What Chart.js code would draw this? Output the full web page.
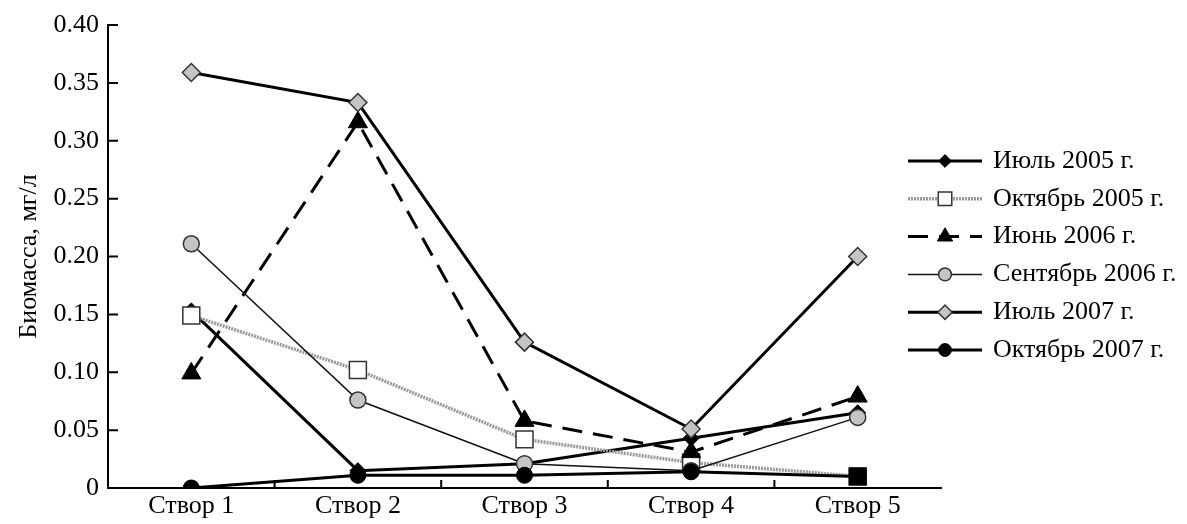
<!DOCTYPE html>
<html>
<head>
<meta charset="utf-8">
<script src="https://cdn.jsdelivr.net/npm/chart.js@4.4.1/dist/chart.umd.min.js"></script>
<style>
    html, body { margin: 0; padding: 0; background: #fff; }
    #wrap { width: 1187px; height: 524px; position: relative; }
</style>
</head>
<body>
<div id="wrap"><canvas id="chart"></canvas></div>
<script>
// Данные графика
const categories = ['Створ 1', 'Створ 2', 'Створ 3', 'Створ 4', 'Створ 5'];
const seriesNames = ['Июль 2005 г.', 'Октябрь 2005 г.', 'Июнь 2006 г.', 'Сентябрь 2006 г.', 'Июль 2007 г.', 'Октябрь 2007 г.'];
const jul2005 = [0.153, 0.015, 0.021, 0.043, 0.065];
const oct2005 = [0.149, 0.102, 0.042, 0.022, 0.010];
const jun2006 = [0.099, 0.316, 0.058, 0.031, 0.079];
const sep2006 = [0.211, 0.076, 0.021, 0.015, 0.061];
const jul2007 = [0.359, 0.333, 0.126, 0.051, 0.200];
const oct2007 = [0.000, 0.011, 0.011, 0.014, 0.010];
const yTicks = [0, 0.05, 0.10, 0.15, 0.20, 0.25, 0.30, 0.35, 0.40];

const FONT = 'Liberation Serif';

const datasets = [
    {
        label: seriesNames[0], data: jul2005,
        borderColor: '#000', borderWidth: 3,
        pointStyle: 'rectRot', pointRadius: 8, pointBackgroundColor: '#000', pointBorderColor: '#000', pointBorderWidth: 1
    },
    {
        label: seriesNames[1], data: oct2005,
        borderColor: '#9a9a9a', borderWidth: 3.5, borderDash: [2, 1],
        pointStyle: 'rect', pointRadius: 12, pointBackgroundColor: '#fff', pointBorderColor: '#333', pointBorderWidth: 1.5
    },
    {
        label: seriesNames[2], data: jun2006,
        borderColor: '#000', borderWidth: 3, borderDash: [20, 11],
        pointStyle: 'triangle', pointRadius: 11, pointBackgroundColor: '#000', pointBorderColor: '#000', pointBorderWidth: 1
    },
    {
        label: seriesNames[3], data: sep2006,
        borderColor: '#111', borderWidth: 1.5,
        pointStyle: 'circle', pointRadius: 8, pointBackgroundColor: '#c4c4c4', pointBorderColor: '#333', pointBorderWidth: 1.5
    },
    {
        label: seriesNames[4], data: jul2007,
        borderColor: '#000', borderWidth: 3,
        pointStyle: 'rectRot', pointRadius: 9, pointBackgroundColor: '#c4c4c4', pointBorderColor: '#333', pointBorderWidth: 1.5
    },
    {
        label: seriesNames[5], data: oct2007,
        borderColor: '#000', borderWidth: 3,
        pointStyle: ['circle', 'circle', 'circle', 'circle', 'rect'],
        pointRadius: [8, 8, 8, 8, 12], pointBackgroundColor: '#000', pointBorderColor: '#000', pointBorderWidth: 1
    }
];
// последняя серия рисуется поверх остальных
datasets.forEach((ds, i) => {
    ds.order = datasets.length - i;
    ds.tension = 0;
    ds.fill = false;
});

// Внутренние засечки на осях
const innerTicks = {
    id: 'innerTicks',
    afterDraw(chart) {
        const ctx = chart.ctx;
        const x = chart.scales.x;
        const y = chart.scales.y;
        ctx.save();
        ctx.strokeStyle = '#000';
        ctx.lineWidth = 2;
        ctx.beginPath();
        y.ticks.forEach((t, i) => {
            const py = y.getPixelForTick(i);
            ctx.moveTo(y.right, py);
            ctx.lineTo(y.right + 10, py);
        });
        for (let i = 0; i < categories.length - 1; i++) {
            const px = (x.getPixelForValue(i) + x.getPixelForValue(i + 1)) / 2;
            ctx.moveTo(px, x.top);
            ctx.lineTo(px, x.top - 8);
        }
        ctx.stroke();
        ctx.restore();
    }
};

// Легенда справа: линия с маркером и подпись
const sideLegend = {
    id: 'sideLegend',
    afterDraw(chart) {
        const ctx = chart.ctx;
        const x0 = 908, x1 = 982, tx = 993;
        ctx.save();
        chart.data.datasets.forEach((ds, i) => {
            const yy = 161 + i * 37.8;
            ctx.strokeStyle = ds.borderColor;
            ctx.lineWidth = ds.borderWidth;
            ctx.setLineDash(ds.borderDash || []);
            ctx.beginPath();
            ctx.moveTo(x0, yy);
            ctx.lineTo(x1, yy);
            ctx.stroke();
            ctx.setLineDash([]);
            const style = Array.isArray(ds.pointStyle) ? ds.pointStyle[0] : ds.pointStyle;
            const radius = Array.isArray(ds.pointRadius) ? ds.pointRadius[0] : ds.pointRadius;
            ctx.fillStyle = ds.pointBackgroundColor;
            ctx.strokeStyle = ds.pointBorderColor;
            ctx.lineWidth = ds.pointBorderWidth;
            Chart.helpers.drawPoint(ctx, { pointStyle: style, radius: radius * 0.8, borderWidth: ds.pointBorderWidth, rotation: 0 }, (x0 + x1) / 2, yy);
            ctx.fillStyle = '#000';
            ctx.font = '26px "' + FONT + '"';
            ctx.textBaseline = 'middle';
            ctx.fillText(ds.label, tx, yy);
        });
        ctx.restore();
    }
};

const ctx = document.getElementById('chart').getContext('2d');
// eslint-disable-next-line no-undef
new Chart(ctx, {
    type: 'line',
    data: { labels: categories, datasets: datasets },
    plugins: [innerTicks, sideLegend],
    options: {
        responsive: true,
        maintainAspectRatio: false,
        animation: false,
        layout: { padding: { left: 0, right: 246, top: 25, bottom: 0 } },
        plugins: {
            legend: { display: false },
            tooltip: { enabled: false }
        },
        scales: {
            x: {
                type: 'category',
                offset: true,
                grid: { display: false, drawTicks: false },
                border: { display: true, color: '#000', width: 2 },
                ticks: { color: '#000', padding: 3, font: { family: FONT, size: 26 } },
                afterFit(scale) { scale.height = 36; }
            },
            y: {
                min: 0,
                max: 0.40,
                afterBuildTicks(scale) { scale.ticks = yTicks.map(v => ({ value: v })); },
                grid: { display: false, drawTicks: false },
                border: { display: true, color: '#000', width: 2 },
                ticks: {
                    color: '#000', padding: 9,
                    font: { family: FONT, size: 26 },
                    callback: v => (v === 0 ? '0' : v.toFixed(2))
                },
                title: {
                    display: true,
                    text: 'Биомасса, мг/л',
                    color: '#000',
                    font: { family: FONT, size: 26 },
                    padding: { top: 14, bottom: 0 }
                },
                afterFit(scale) { scale.width = 108; }
            }
        }
    }
});
</script>
</body>
</html>
